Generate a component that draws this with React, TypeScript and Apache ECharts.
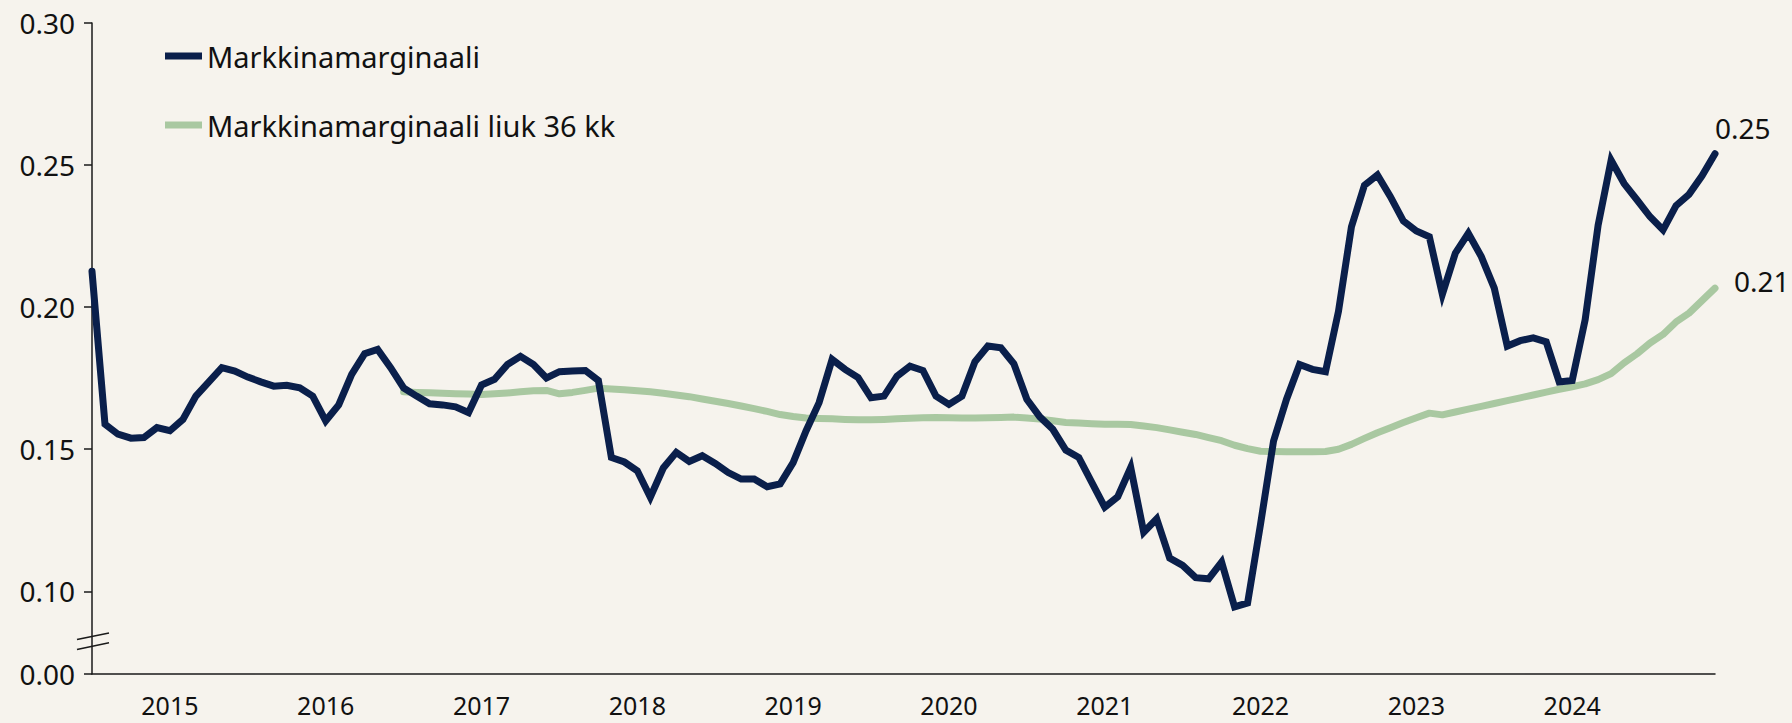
import React, { useEffect, useRef } from "react";
import * as echarts from "echarts";

// Monthly categories Jul 2014 – Dec 2024
const years = [2014, 2015, 2016, 2017, 2018, 2019, 2020, 2021, 2022, 2023, 2024];
const months: string[] = [];
for (const y of years) {
  for (let m = 1; m <= 12; m++) {
    if (y === 2014 && m < 7) continue;
    months.push(`${y}-${String(m).padStart(2, "0")}`);
  }
}

const seriesNames = ["Markkinamarginaali", "Markkinamarginaali liuk 36 kk"];

const marginaali = [
  0.2126, 0.1588, 0.1553, 0.1539, 0.1541, 0.1576, 0.1565, 0.1605, 0.1687, 0.1737, 0.1787, 0.1775,
  0.1754, 0.1737, 0.1722, 0.1725, 0.1716, 0.1687, 0.1600, 0.1656, 0.1763, 0.1836, 0.1851, 0.1787,
  0.1716, 0.1687, 0.1660, 0.1656, 0.1649, 0.1629, 0.1726, 0.1746, 0.1798, 0.1827, 0.1798, 0.1751,
  0.1773, 0.1775, 0.1777, 0.1742, 0.1471, 0.1455, 0.1424, 0.1331, 0.1434, 0.1489, 0.1457, 0.1477,
  0.1450, 0.1418, 0.1395, 0.1395, 0.1368, 0.1378, 0.1453, 0.1565, 0.1664, 0.1816, 0.1781, 0.1752,
  0.1681, 0.1687, 0.1757, 0.1792, 0.1777, 0.1687, 0.1658, 0.1687, 0.1808, 0.1863, 0.1857, 0.1801,
  0.1676, 0.1614, 0.1570, 0.1497, 0.1471, 0.1383, 0.1296, 0.1333, 0.1436, 0.1208, 0.1255, 0.1117,
  0.1091, 0.1048, 0.1044, 0.1103, 0.0945, 0.0959, 0.1237, 0.1529, 0.1676, 0.1798, 0.1781, 0.1773,
  0.1985, 0.2283, 0.2429, 0.2465, 0.2389, 0.2303, 0.2268, 0.2248, 0.2045, 0.2190, 0.2260, 0.2178,
  0.2067, 0.1863, 0.1882, 0.1892, 0.1878, 0.1737, 0.1742, 0.1956, 0.2289, 0.2517, 0.2435, 0.2377,
  0.2318, 0.2272, 0.2357, 0.2397, 0.2462, 0.2540,
];

const liuk36 = [
  null, null, null, null, null, null, null, null, null, null, null, null,
  null, null, null, null, null, null, null, null, null, null, null, null,
  0.1702, 0.1700, 0.1699, 0.1697, 0.1695, 0.1694, 0.1693, 0.1695, 0.1698, 0.1702, 0.1706, 0.1707,
  0.1695, 0.1700, 0.1707, 0.1715, 0.1712, 0.1709, 0.1706, 0.1702, 0.1697, 0.1691, 0.1685, 0.1677,
  0.1669, 0.1661, 0.1652, 0.1643, 0.1633, 0.1622, 0.1615, 0.1610, 0.1608, 0.1607, 0.1605, 0.1604,
  0.1604, 0.1605, 0.1607, 0.1609, 0.1611, 0.1612, 0.1611, 0.1610, 0.1610, 0.1611, 0.1612, 0.1613,
  0.1610, 0.1606, 0.1600, 0.1594, 0.1592, 0.1590, 0.1588, 0.1588, 0.1587, 0.1582, 0.1576, 0.1568,
  0.1560, 0.1552, 0.1541, 0.1530, 0.1514, 0.1502, 0.1493, 0.1492, 0.1491, 0.1491, 0.1491, 0.1492,
  0.1500, 0.1517, 0.1538, 0.1558, 0.1576, 0.1594, 0.1611, 0.1627, 0.1621, 0.1631, 0.1641, 0.1651,
  0.1661, 0.1671, 0.1681, 0.1691, 0.1701, 0.1711, 0.1720, 0.1730, 0.1745, 0.1766, 0.1804, 0.1836,
  0.1874, 0.1904, 0.1948, 0.1979, 0.2023, 0.2067,
];

const yTicks = [0.1, 0.15, 0.2, 0.25, 0.3];
const zeroLabel = "0.00";

const Y_MIN = 0.0709; // broken axis: bottom edge stands for 0.00
const FONT = "'Noto Sans', sans-serif";
const NAVY = "#0a1f4b";
const GREEN = "#a9c8a1";
const TEXT = "#111111";
const BG = "#f6f3ed";

export default function App() {
  const ref = useRef<HTMLDivElement>(null);

  useEffect(() => {
    if (!ref.current) return;
    const chart = echarts.init(ref.current, undefined, { renderer: "svg" });
    const tickVals = [Y_MIN, ...yTicks];
    chart.setOption({
      animation: false,
      backgroundColor: BG,
      textStyle: { fontFamily: FONT },
      grid: { left: 92, right: 77, top: 23, bottom: 49, containLabel: false },
      legend: {
        orient: "vertical",
        left: 160,
        top: 36,
        itemGap: 39,
        itemWidth: 37,
        itemHeight: 7,
        icon: "rect",
        data: seriesNames,
        textStyle: { fontSize: 29, color: TEXT, fontFamily: FONT, lineHeight: 30 },
      },
      xAxis: {
        type: "category",
        data: months,
        boundaryGap: false,
        axisLine: { lineStyle: { color: "#1a1a1a", width: 1.5 } },
        axisTick: { show: false },
        splitLine: { show: false },
        axisLabel: {
          interval: (i: number) => months[i].endsWith("-01"),
          formatter: (v: string) => v.slice(0, 4),
          fontSize: 25,
          lineHeight: 25,
          color: TEXT,
          fontFamily: FONT,
          margin: 18,
        },
      },
      yAxis: {
        type: "value",
        min: Y_MIN,
        max: 0.3,
        axisLine: { show: true, lineStyle: { color: "#1a1a1a", width: 1.5 } },
        axisTick: { show: true, length: 8, customValues: tickVals, lineStyle: { color: "#1a1a1a", width: 1.5 } },
        splitLine: { show: false },
        axisLabel: {
          customValues: tickVals,
          formatter: (v: number) => (v < 0.09 ? zeroLabel : v.toFixed(2)),
          fontSize: 28,
          color: TEXT,
          fontFamily: FONT,
          margin: 17,
        },
      },
      series: [
        {
          name: seriesNames[0],
          type: "line",
          data: marginaali,
          showSymbol: false,
          color: NAVY,
          lineStyle: { color: NAVY, width: 7, join: "miter", cap: "round" },
          z: 3,
          endLabel: {
            show: true,
            formatter: (p: any) => Number(p.value).toFixed(2),
            distance: 0,
            offset: [0, -26],
            fontSize: 28,
            color: TEXT,
            fontFamily: FONT,
          },
        },
        {
          name: seriesNames[1],
          type: "line",
          data: liuk36,
          showSymbol: false,
          color: GREEN,
          lineStyle: { color: GREEN, width: 7, join: "round", cap: "round" },
          z: 2,
          endLabel: {
            show: true,
            formatter: (p: any) => Number(p.value).toFixed(2),
            distance: 0,
            offset: [19, -7],
            fontSize: 28,
            color: TEXT,
            fontFamily: FONT,
          },
        },
      ],
    });

    // Axis-break marks on the y axis
    const ax = chart.convertToPixel({ xAxisIndex: 0 }, 0) as number;
    const yA = chart.convertToPixel({ yAxisIndex: 0 }, 0.0842) as number;
    const yB = chart.convertToPixel({ yAxisIndex: 0 }, 0.0807) as number;
    chart.setOption({
      graphic: [yA, yB].map((y) => ({
        type: "line",
        shape: { x1: ax - 15, y1: y + 3.3, x2: ax + 17, y2: y - 3.3 },
        style: { stroke: "#1a1a1a", lineWidth: 1.5 },
        z: 10,
      })),
    });

    return () => chart.dispose();
  }, []);

  return (
    <div
      ref={ref}
      style={{ position: "fixed", left: 0, top: 0, width: 1792, height: 723 }}
    />
  );
}
